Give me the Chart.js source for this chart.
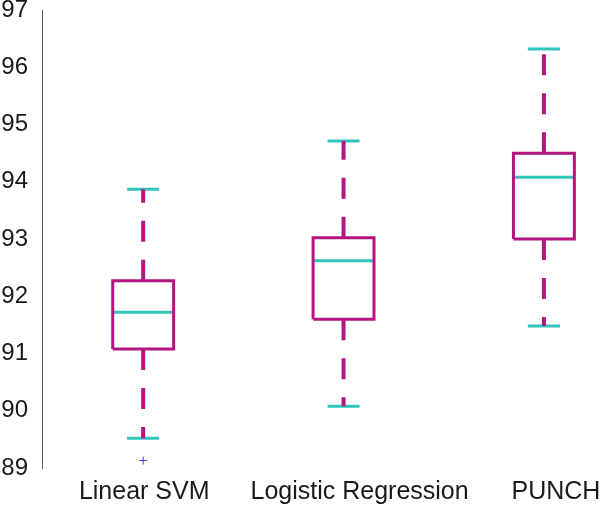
<!DOCTYPE html>
<html>
<head>
<meta charset="utf-8">
<script src="https://cdn.jsdelivr.net/npm/chart.js@4/dist/chart.umd.min.js"></script>
<style>
	html, body { margin: 0; padding: 0; background: #fff; }
	#wrap { width: 600px; height: 506px; }
</style>
</head>
<body>
<div id="wrap"><canvas id="boxes"></canvas></div>
<script>
// valeurs
const categories = ['Linear SVM', 'Logistic Regression', 'PUNCH'];
const whiskerLow = [89.52, 90.08, 91.48];
const q1 = [91.08, 91.60, 93.00];
const median = [91.72, 92.62, 94.08];
const q3 = [92.27, 93.02, 94.50];
const whiskerHigh = [93.87, 94.71, 96.32];
const outliers = [[89.13], [], []];
const yTicks = [89, 90, 91, 92, 93, 94, 95, 96, 97];

const magenta = '#b5157f';
const cyan = '#30c6bd';
const boxHalf = 0.152;
const capHalf = 0.08;
const labelNudge = [0.005, 0.08, 0.06]; // les labels ne sont pas tout a fait centres sous les boites

// on construit les segments, null = coupure de ligne
let boxPts = [], medPts = [], whiskPts = [], capPts = [], outPts = [];
categories.forEach((c, i) => {
	boxPts.push({x: i - boxHalf, y: q1[i]}, {x: i - boxHalf, y: q3[i]}, {x: i + boxHalf, y: q3[i]},
		{x: i + boxHalf, y: q1[i]}, {x: i - boxHalf, y: q1[i]}, {x: i, y: null});
	medPts.push({x: i - boxHalf, y: median[i]}, {x: i + boxHalf, y: median[i]}, {x: i, y: null});
	whiskPts.push({x: i, y: q3[i]}, {x: i, y: whiskerHigh[i]}, {x: i, y: null});
	whiskPts.push({x: i, y: q1[i]}, {x: i, y: whiskerLow[i]}, {x: i, y: null});
	capPts.push({x: i - capHalf, y: whiskerHigh[i]}, {x: i + capHalf, y: whiskerHigh[i]}, {x: i, y: null});
	capPts.push({x: i - capHalf, y: whiskerLow[i]}, {x: i + capHalf, y: whiskerLow[i]}, {x: i, y: null});
	outliers[i].forEach(v => outPts.push({x: i, y: v}));
});

const seg = (data, color, width, dash) => ({
	type: 'line', data: data, borderColor: color, borderWidth: width, borderDash: dash || [],
	pointRadius: 0, spanGaps: false, fill: false, tension: 0, borderCapStyle: 'butt', borderJoinStyle: 'miter'
});

const ctx = document.getElementById('boxes').getContext('2d');
const myChart = new Chart(ctx, {
	type: 'line',
	data: {
		datasets: [
			seg(whiskPts, magenta, 4, [21, 18]),
			seg(boxPts, magenta, 3),
			seg(medPts, cyan, 3),
			seg(capPts, cyan, 3),
			{
				type: 'scatter', data: outPts, pointStyle: 'cross', pointRadius: 4,
				borderColor: '#3b3bff', backgroundColor: '#3b3bff', borderWidth: 1
			}
		]
	},
	options: {
		responsive: true,
		maintainAspectRatio: false,
		animation: false,
		layout: { padding: { top: 10, right: 0, left: 0, bottom: 0 } },
		plugins: { legend: { display: false }, tooltip: { enabled: false } },
		scales: {
			x: {
				type: 'linear',
				min: -0.505,
				max: 2.255,
				afterBuildTicks: s => { s.ticks = categories.map((c, i) => ({value: i + labelNudge[i]})); },
				afterFit: s => { s.height = 38; s.paddingLeft = 0; s.paddingRight = 0; },
				grid: { display: false, drawTicks: false },
				border: { display: false },
				ticks: {
					autoSkip: false, maxRotation: 0, padding: 9,
					color: '#1a1a1a', font: { family: 'Liberation Sans', size: 25 },
					callback: v => categories[Math.round(v)]
				}
			},
			y: {
				min: 89,
				max: 97,
				afterBuildTicks: s => { s.ticks = yTicks.map(v => ({value: v})); },
				afterFit: s => { s.width = 42; s.paddingTop = 0; s.paddingBottom = 0; },
				grid: { display: false, drawTicks: false },
				border: { display: true, color: '#555', width: 1 },
				ticks: {
					padding: 14, color: '#1a1a1a', font: { family: 'Liberation Sans', size: 24 }
				}
			}
		}
	}
});
</script>
</body>
</html>
